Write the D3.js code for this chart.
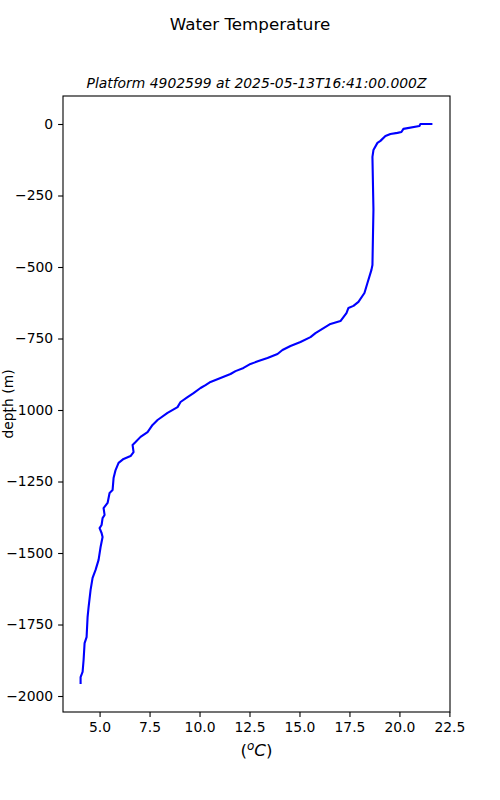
<!DOCTYPE html>
<html>
<head>
<meta charset="utf-8">
<script src="https://cdn.jsdelivr.net/npm/d3@7"></script>
<style>
  body { margin: 0; background: #fff; }
  text { font-family: "DejaVu Sans", sans-serif; fill: #000; }
</style>
</head>
<body>
<svg id="chart" width="500" height="800"></svg>
<script>
// Data
const temperature = [21.65, 21.05, 21.0, 20.2, 20.1, 19.9, 19.55, 19.3, 19.05, 18.9, 18.7, 18.65, 18.7, 18.65,
  18.6, 18.4, 18.25, 17.95, 17.7, 17.45, 17.35, 17.05, 16.55, 15.8, 15.55, 15.05, 14.55, 14.15, 13.9, 13.4,
  12.95, 12.55, 12.2, 11.8, 11.55, 11.05, 10.55, 10.3, 10.05, 9.7, 9.4, 9.05, 8.9, 8.4, 7.9, 7.65, 7.4, 7.05,
  6.8, 6.65, 6.7, 6.55, 6.2, 5.95, 5.8, 5.7, 5.65, 5.5, 5.4, 5.2, 5.25, 5.15, 5.1, 5.0, 5.1, 5.15, 5.05, 4.95,
  4.8, 4.65, 4.55, 4.45, 4.4, 4.35, 4.25, 4.2, 4.15, 4.05, 4.05];
const depth = [0, 0, -7, -17, -28, -31, -35, -42, -59, -66, -91, -115, -300, -493,
  -510, -556, -591, -622, -636, -643, -661, -689, -699, -731, -745, -762, -776, -790, -804, -818,
  -829, -839, -853, -864, -874, -888, -902, -913, -923, -941, -955, -972, -990, -1010, -1035, -1052, -1077, -1094,
  -1112, -1122, -1147, -1161, -1171, -1185, -1210, -1238, -1280, -1290, -1325, -1343, -1367, -1378, -1402, -1413, -1430, -1444, -1479, -1524,
  -1559, -1587, -1629, -1689, -1724, -1794, -1815, -1874, -1916, -1934, -1958];
const xTicks = [5.0, 7.5, 10.0, 12.5, 15.0, 17.5, 20.0, 22.5];
const yTicks = [0, -250, -500, -750, -1000, -1250, -1500, -1750, -2000];
const suptitle = "Water Temperature";
const subtitle = "Platform 4902599 at 2025-05-13T16:41:00.000Z";
const yLabel = "depth (m)";

const svg = d3.select("#chart");
const L = 63, R = 450, T = 96, B = 712;

// matplotlib-like 5% margins
const xmin = d3.min(temperature), xmax = d3.max(temperature);
const ymin = d3.min(depth), ymax = d3.max(depth);
const xm = (xmax - xmin) * 0.05, ym = (ymax - ymin) * 0.05;
const x = d3.scaleLinear().domain([xmin - xm, xmax + xm]).range([L, R]);
const y = d3.scaleLinear().domain([ymin - ym, ymax + ym]).range([B, T]);

const fmtMinus = s => s.replace("-", "\u2212");

const xAxis = d3.axisBottom(x).tickValues(xTicks).tickSize(4.9).tickPadding(4.9)
  .tickFormat(d => d3.format(".1f")(d));
const yAxis = d3.axisLeft(y).tickValues(yTicks).tickSize(4.9).tickPadding(4.9)
  .tickFormat(d => fmtMinus(String(d)));

const gx = svg.append("g").attr("transform", `translate(0,${B})`).call(xAxis);
const gy = svg.append("g").attr("transform", `translate(${L},0)`).call(yAxis);
[gx, gy].forEach(g => {
  g.select(".domain").remove();
  g.selectAll("line").attr("stroke", "#000").attr("stroke-width", 1.1);
  g.selectAll("text").attr("font-family", "DejaVu Sans").attr("font-size", 13.9).attr("fill", "#000");
});

// Line
const line = d3.line().x((d, i) => x(temperature[i])).y((d, i) => y(depth[i]));
svg.append("path").datum(depth).attr("d", line)
  .attr("fill", "none").attr("stroke", "#0000ff").attr("stroke-width", 2.1)
  .attr("stroke-linejoin", "round").attr("stroke-linecap", "butt");

// Frame
svg.append("rect").attr("x", L).attr("y", T).attr("width", R - L).attr("height", B - T)
  .attr("fill", "none").attr("stroke", "#000").attr("stroke-width", 1.1);

// Titles
svg.append("text").attr("x", 250).attr("y", 30).attr("text-anchor", "middle")
  .attr("font-size", 16.7).text(suptitle);
svg.append("text").attr("x", (L + R) / 2).attr("y", 88).attr("text-anchor", "middle")
  .attr("font-size", 13.9).attr("font-style", "italic").text(subtitle);

// Y label
svg.append("text").attr("transform", `translate(12.5,${(T + B) / 2}) rotate(-90)`)
  .attr("text-anchor", "middle").attr("font-size", 13.9).text(yLabel);

// X label (°C) mathtext style
const xl = svg.append("text").attr("x", (L + R) / 2).attr("y", 756).attr("text-anchor", "middle")
  .attr("font-size", 16.7);
xl.append("tspan").text("(");
xl.append("tspan").attr("font-style", "italic").attr("font-size", 12).attr("dy", -6).text("o");
xl.append("tspan").attr("font-style", "italic").attr("dy", 6).text("C");
xl.append("tspan").text(")");
</script>
</body>
</html>
